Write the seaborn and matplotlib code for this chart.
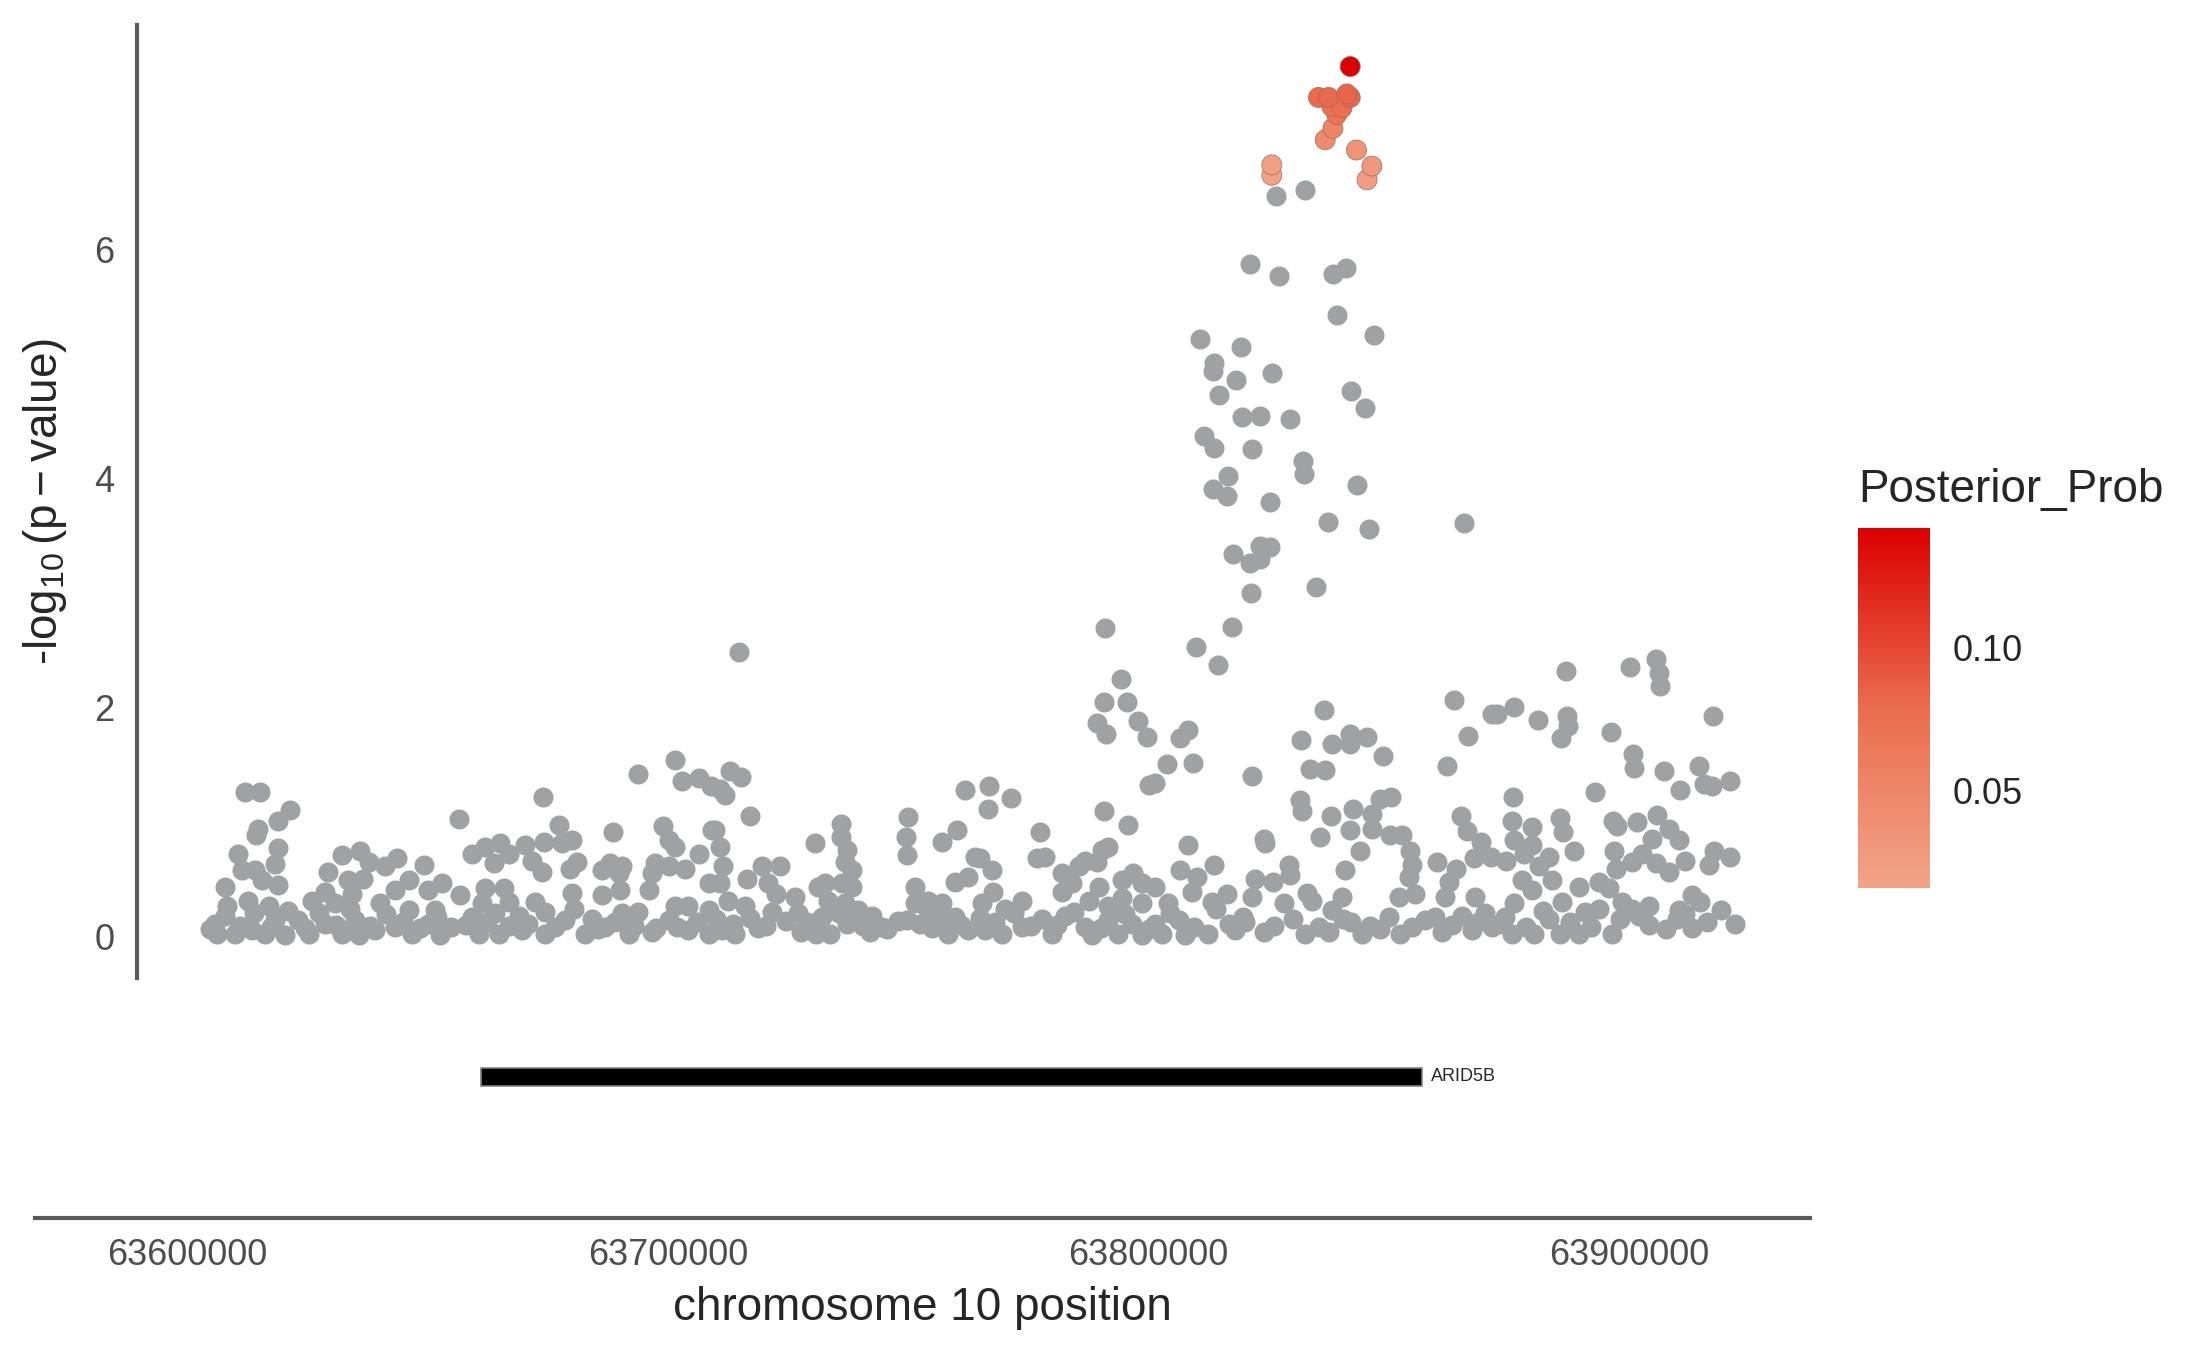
import numpy as np
import pandas as pd
import matplotlib
matplotlib.use("Agg")
import matplotlib.pyplot as plt
import seaborn as sns
from matplotlib.colors import LinearSegmentedColormap, Normalize
from matplotlib.cm import ScalarMappable

# ---- data (positions in kb on chr10, -log10 p) ----
# SNPs without a posterior (grey), split by region
left_pos = [63604.8, 63612.1, 63615.2, 63621.5, 63619.0, 63614.7, 63614.4, 63610.7, 63618.9, 63618.3,
            63614.2, 63611.4, 63607.9, 63619.0, 63615.6, 63608.3, 63612.8, 63617.0, 63605.9, 63606.2,
            63610.0, 63613.5, 63616.3, 63618.3, 63620.4, 63623.2, 63625.3, 63626.0, 63629.4, 63628.7,
            63632.2, 63636.0, 63637.8, 63633.6, 63636.7, 63634.3, 63630.8, 63628.7, 63632.2, 63635.7,
            63635.0, 63639.1, 63640.2, 63641.2, 63643.7, 63643.3, 63646.1, 63649.2, 63646.1, 63643.3,
            63646.8, 63650.2, 63651.6, 63653.0, 63652.7, 63650.2]
left_logp = [0.06, 1.26, 1.26, 1.10, 1.01, 0.94, 0.88, 0.72, 0.77, 0.63,
             0.58, 0.58, 0.43, 0.45, 0.49, 0.26, 0.31, 0.26, 0.11, 0.02,
             0.02, 0.05, 0.02, 0.14, 0.01, 0.14, 0.02, 0.31, 0.56, 0.39,
             0.71, 0.74, 0.65, 0.49, 0.50, 0.37, 0.29, 0.11, 0.02, 0.01,
             0.14, 0.05, 0.29, 0.61, 0.68, 0.40, 0.49, 0.62, 0.23, 0.08,
             0.02, 0.40, 0.23, 0.46, 0.01, 0.11]

midleft_pos = [63656.5, 63674.0, 63677.3, 63693.7, 63701.6, 63703.0, 63706.4, 63708.9, 63688.7, 63699.1,
               63700.2, 63701.6, 63706.4, 63709.2, 63659.3, 63662.0, 63665.2, 63666.9, 63663.8, 63670.4,
               63674.2, 63671.7, 63673.8, 63678.0, 63680.1, 63681.1, 63679.7, 63686.3, 63688.0, 63690.5,
               63689.8, 63697.4, 63696.7, 63700.2, 63703.6, 63708.5, 63680.1, 63686.3, 63690.1, 63696.0,
               63656.8, 63662.0, 63665.9, 63661.3, 63666.9, 63672.4, 63659.3, 63664.1, 63669.0, 63674.5,
               63678.7, 63660.7, 63664.8, 63669.7, 63674.5, 63682.8, 63684.2, 63687.0, 63690.5, 63693.9,
               63691.9, 63696.7, 63700.2, 63701.6, 63704.3, 63704.3, 63708.5, 63708.5]
midleft_logp = [1.02, 1.22, 0.97, 1.42, 1.54, 1.36, 1.38, 1.31, 0.91, 0.96,
                0.84, 0.78, 0.72, 0.93, 0.72, 0.78, 0.81, 0.72, 0.64, 0.80,
                0.82, 0.66, 0.56, 0.81, 0.84, 0.65, 0.59, 0.58, 0.64, 0.61,
                0.55, 0.64, 0.55, 0.61, 0.59, 0.46, 0.38, 0.36, 0.40, 0.40,
                0.36, 0.42, 0.42, 0.29, 0.30, 0.30, 0.17, 0.20, 0.18, 0.21,
                0.14, 0.02, 0.02, 0.05, 0.02, 0.02, 0.15, 0.08, 0.20, 0.21,
                0.02, 0.04, 0.14, 0.26, 0.26, 0.05, 0.23, 0.02]

mid_pos = [63714.8, 63712.9, 63715.3, 63710.8, 63711.9, 63717.0, 63709.8, 63710.8, 63711.5, 63710.8,
           63712.6, 63716.4, 63716.0, 63719.5, 63723.3, 63720.9, 63722.6, 63721.6, 63718.8, 63714.0,
           63711.2, 63726.4, 63727.1, 63727.8, 63730.6, 63731.3, 63732.7, 63730.9, 63733.7, 63733.4,
           63736.0, 63736.0, 63737.2, 63736.8, 63738.2, 63738.2, 63736.2, 63736.8, 63737.2, 63739.6,
           63742.4, 63742.0, 63744.5, 63747.9, 63749.7, 63749.9, 63749.5, 63749.8, 63751.4, 63751.4,
           63754.2, 63754.2, 63757.0, 63754.9, 63758.3, 63759.7, 63757.0, 63760.1, 63761.9, 63759.7,
           63762.5, 63762.5, 63763.9]
mid_logp = [2.48, 1.44, 1.39, 1.29, 1.23, 1.05, 0.93, 0.78, 0.61, 0.46,
            0.31, 0.50, 0.26, 0.61, 0.61, 0.46, 0.37, 0.21, 0.07, 0.02,
            0.05, 0.34, 0.20, 0.04, 0.81, 0.43, 0.46, 0.02, 0.02, 0.31,
            0.98, 0.87, 0.75, 0.65, 0.58, 0.43, 0.46, 0.29, 0.11, 0.23,
            0.18, 0.04, 0.08, 0.13, 0.14, 1.04, 0.87, 0.71, 0.43, 0.29,
            0.31, 0.23, 0.29, 0.07, 0.02, 0.17, 0.82, 0.93, 1.28, 0.47,
            0.52, 0.05, 0.69]

midright_pos = [63790.9, 63809.8, 63814.4, 63817.3, 63794.2, 63790.8, 63795.5, 63789.2, 63791.2, 63797.7,
                63799.6, 63806.5, 63808.1, 63803.9, 63809.2, 63800.0, 63801.3, 63766.8, 63771.4, 63766.5,
                63790.7, 63795.7, 63777.4, 63808.1, 63813.5, 63791.6, 63790.3, 63776.7, 63778.5, 63764.9,
                63767.4, 63786.8, 63789.2, 63781.9, 63785.4, 63784.0, 63781.9, 63789.6, 63794.4, 63796.8,
                63798.6, 63801.3, 63806.5, 63810.0, 63809.0, 63804.1, 63773.6, 63767.7, 63770.1, 63765.3,
                63787.5, 63791.6, 63794.4, 63798.6, 63813.1, 63816.3, 63777.8, 63782.6, 63786.8, 63791.6,
                63796.5, 63801.3, 63806.2, 63773.6, 63769.4, 63766.0, 63779.8, 63788.2, 63793.7, 63798.6,
                63802.7, 63807.6, 63812.4, 63816.6]
midright_logp = [2.69, 2.53, 2.37, 2.70, 2.25, 2.05, 2.05, 1.86, 1.77, 1.88,
                 1.74, 1.73, 1.80, 1.50, 1.51, 1.32, 1.34, 1.31, 1.21, 1.11,
                 1.09, 0.97, 0.91, 0.80, 0.62, 0.78, 0.75, 0.68, 0.69, 0.68,
                 0.58, 0.66, 0.65, 0.55, 0.61, 0.46, 0.39, 0.43, 0.49, 0.55,
                 0.46, 0.43, 0.58, 0.52, 0.39, 0.29, 0.31, 0.39, 0.24, 0.29,
                 0.31, 0.26, 0.33, 0.29, 0.30, 0.37, 0.15, 0.18, 0.08, 0.14,
                 0.11, 0.11, 0.14, 0.08, 0.02, 0.05, 0.02, 0.01, 0.02, 0.01,
                 0.02, 0.01, 0.02, 0.11]

right_pos = [63836.4, 63831.7, 63838.1, 63841.8, 63841.9, 63845.3, 63848.7, 63833.6, 63836.7, 63821.5,
             63863.4, 63866.4, 63871.4, 63862.0, 63831.5, 63831.9, 63838.0, 63842.5, 63848.0, 63850.4,
             63846.4, 63846.4, 63841.9, 63844.0, 63835.7, 63823.9, 63824.2, 63850.2, 63852.7, 63854.4,
             63854.8, 63854.1, 63855.4, 63852.0, 63865.0, 63866.2, 63869.0, 63860.0, 63863.8, 63867.6,
             63871.1, 63862.4, 63861.7, 63867.9, 63829.1, 63829.4, 63822.2, 63825.8, 63840.9, 63832.9,
             63834.0, 63828.2, 63840.2, 63838.1, 63840.5, 63821.5, 63819.7, 63823.9, 63832.6, 63837.4,
             63844.4, 63846.1, 63849.9, 63852.3, 63854.8, 63859.6, 63861.0, 63865.2, 63867.2, 63870.0,
             63871.4, 63818.0]
right_logp = [1.98, 1.71, 1.68, 1.77, 1.68, 1.74, 1.57, 1.46, 1.45, 1.40,
              2.06, 1.75, 1.94, 1.49, 1.19, 1.09, 1.05, 1.11, 1.20, 1.22,
              1.07, 0.94, 0.93, 0.74, 0.87, 0.85, 0.81, 0.88, 0.88, 0.74,
              0.62, 0.52, 0.37, 0.34, 1.05, 0.92, 0.82, 0.65, 0.59, 0.68,
              0.69, 0.47, 0.34, 0.34, 0.62, 0.53, 0.50, 0.47, 0.58, 0.38,
              0.31, 0.29, 0.34, 0.23, 0.15, 0.34, 0.17, 0.04, 0.02, 0.04,
              0.02, 0.09, 0.17, 0.02, 0.08, 0.17, 0.04, 0.18, 0.05, 0.20,
              0.08, 0.05]

far_pos = [63905.4, 63906.1, 63906.3, 63900.0, 63886.7, 63875.9, 63872.4, 63881.0, 63887.0, 63887.2,
           63885.8, 63896.2, 63917.3, 63900.7, 63900.9, 63907.1, 63910.4, 63914.5, 63915.4, 63917.2,
           63920.9, 63875.8, 63892.8, 63875.6, 63879.7, 63885.5, 63886.2, 63896.5, 63897.4, 63901.6,
           63905.7, 63908.2, 63904.7, 63910.2, 63875.9, 63879.7, 63874.2, 63878.0, 63883.2, 63881.1,
           63888.5, 63896.7, 63897.1, 63900.5, 63902.6, 63905.4, 63908.2, 63911.6, 63917.5, 63916.5,
           63920.9, 63877.6, 63883.9, 63879.7, 63889.4, 63893.6, 63895.7, 63875.9, 63886.0, 63898.5,
           63900.5, 63904.0, 63913.0, 63914.7, 63910.2, 63909.9, 63890.8, 63893.6, 63883.2, 63872.8,
           63875.6, 63880.1, 63885.6, 63889.4, 63896.4, 63904.0, 63913.0, 63922.0]
far_logp = [2.42, 2.30, 2.19, 2.35, 2.32, 2.00, 1.94, 1.89, 1.92, 1.84,
            1.73, 1.78, 1.92, 1.59, 1.47, 1.44, 1.28, 1.49, 1.33, 1.31,
            1.36, 1.22, 1.26, 1.01, 0.95, 1.03, 0.91, 1.01, 0.96, 1.00,
            1.06, 0.94, 0.85, 0.84, 0.84, 0.80, 0.66, 0.72, 0.69, 0.61,
            0.74, 0.74, 0.59, 0.65, 0.72, 0.64, 0.56, 0.66, 0.74, 0.62,
            0.69, 0.49, 0.49, 0.40, 0.43, 0.47, 0.42, 0.29, 0.30, 0.30,
            0.24, 0.26, 0.36, 0.30, 0.23, 0.15, 0.21, 0.24, 0.15, 0.11,
            0.02, 0.02, 0.02, 0.02, 0.02, 0.10, 0.07, 0.11]

peak_pos = [63826.5, 63832.5, 63821.1, 63827.0, 63838.4, 63841.1, 63839.1, 63846.9, 63810.7, 63819.2,
            63813.5, 63813.4, 63818.1, 63825.6, 63814.7, 63842.1, 63845.0, 63819.4, 63823.2, 63829.3,
            63811.4, 63813.5, 63821.5, 63832.1, 63832.2, 63843.3, 63816.4, 63813.3, 63816.3, 63825.3,
            63837.3, 63845.9, 63865.5, 63817.5, 63823.2, 63825.3, 63821.1, 63823.2, 63821.2, 63834.7]
peak_logp = [6.47, 6.52, 5.87, 5.77, 5.79, 5.84, 5.43, 5.25, 5.22, 5.15,
             5.01, 4.94, 4.86, 4.92, 4.73, 4.76, 4.62, 4.54, 4.55, 4.52,
             4.37, 4.27, 4.26, 4.15, 4.04, 3.94, 4.02, 3.91, 3.85, 3.79,
             3.62, 3.56, 3.61, 3.34, 3.41, 3.40, 3.26, 3.30, 3.00, 3.05]

# partly hidden SNPs in the dense strip just above zero
floor_pos = [63608.0, 63611.0, 63614.0, 63617.5, 63621.0, 63624.5, 63627.5, 63631.0, 63634.0, 63638.0,
             63641.5, 63645.0, 63648.5, 63652.0, 63655.0, 63658.0, 63662.5, 63667.0, 63671.0, 63676.5,
             63680.5, 63685.5, 63689.0, 63693.0, 63697.5, 63702.0, 63706.0, 63710.0, 63713.5, 63717.0,
             63720.5, 63724.5, 63729.0, 63732.0, 63735.5, 63740.5, 63745.5, 63752.5, 63756.5, 63761.0,
             63765.0, 63768.0, 63772.0, 63775.5, 63781.0, 63784.5, 63790.0, 63795.0, 63800.0, 63804.5,
             63809.5, 63814.0, 63820.0, 63826.0, 63830.0, 63835.5, 63842.0, 63848.0, 63857.5, 63863.0,
             63868.5, 63874.0, 63878.5, 63882.0, 63887.5, 63892.0, 63898.0, 63902.0, 63907.5, 63911.5,
             63916.0, 63919.0]
floor_logp = [0.18, 0.09, 0.20, 0.08, 0.22, 0.07, 0.20, 0.10, 0.24, 0.09,
              0.19, 0.12, 0.07, 0.17, 0.08, 0.10, 0.12, 0.09, 0.11, 0.08,
              0.24, 0.06, 0.12, 0.09, 0.07, 0.08, 0.12, 0.15, 0.11, 0.16,
              0.09, 0.13, 0.12, 0.17, 0.20, 0.09, 0.06, 0.11, 0.15, 0.10,
              0.16, 0.12, 0.20, 0.09, 0.10, 0.21, 0.07, 0.19, 0.06, 0.20,
              0.08, 0.24, 0.12, 0.09, 0.15, 0.08, 0.12, 0.06, 0.14, 0.10,
              0.12, 0.17, 0.08, 0.22, 0.12, 0.08, 0.15, 0.18, 0.06, 0.19,
              0.12, 0.23]

# credible-set SNPs with a posterior probability
cs_pos = [63841.9, 63835.3, 63837.4, 63841.2, 63841.9, 63838.1, 63840.2, 63839.1,
          63838.3, 63836.7, 63843.2, 63846.4, 63845.4, 63825.6, 63825.6]
cs_logp = [7.60, 7.33, 7.33, 7.36, 7.33, 7.25, 7.24, 7.18,
           7.06, 6.96, 6.87, 6.73, 6.61, 6.74, 6.65]
cs_pp = [0.142, 0.080, 0.081, 0.083, 0.082, 0.074, 0.076, 0.070,
         0.052, 0.046, 0.036, 0.030, 0.025, 0.020, 0.017]

# gene track
gene_names = ["ARID5B"]
gene_start = [63661100]
gene_end = [63856900]

x_ticks = [63600000, 63700000, 63800000, 63900000]
y_ticks = [0, 2, 4, 6]

# ---- assemble ----
grey = pd.DataFrame({
    "pos": np.array(left_pos + midleft_pos + mid_pos + midright_pos + right_pos + far_pos
                    + peak_pos + floor_pos) * 1000,
    "logp": left_logp + midleft_logp + mid_logp + midright_logp + right_logp + far_logp
            + peak_logp + floor_logp,
})
cs = pd.DataFrame({"pos": np.array(cs_pos) * 1000, "logp": cs_logp, "pp": cs_pp}).sort_values("pp")

sns.set_theme(style="white")
plt.rcParams["font.family"] = ["Liberation Sans", "DejaVu Sans"]
plt.rcParams["mathtext.fontset"] = "custom"
plt.rcParams["mathtext.rm"] = "Liberation Sans"
plt.rcParams["mathtext.it"] = "Liberation Sans:italic"

cmap = LinearSegmentedColormap.from_list("pp", ["#F2A488", "#EA6C4E", "#DC0000"])
norm = Normalize(vmin=0.016, vmax=0.142)

axis_col = "#5A5A5A"
tick_col = "#4D4D4D"

fig = plt.figure(figsize=(10.935, 6.755), dpi=200)

# top panel: association
ax = fig.add_axes([0.0625, 0.276, 0.7653, 0.7055])
sns.scatterplot(data=grey, x="pos", y="logp", color="#A0A1A3", s=52, linewidth=0, ax=ax)
sns.scatterplot(data=cs, x="pos", y="logp", hue="pp", palette=cmap, hue_norm=norm,
                s=52, edgecolor="#a06a5e", linewidth=0.25, legend=False, ax=ax)
ax.set_xlim(63589560, 63937590)
ax.set_ylim(-0.367, 7.963)
ax.set_xticks([])
ax.set_yticks(y_ticks)
ax.set_yticklabels([str(v) for v in y_ticks])
for side in ["top", "right", "bottom"]:
    ax.spines[side].set_visible(False)
ax.spines["left"].set_color(axis_col)
ax.spines["left"].set_linewidth(1.5)
ax.tick_params(axis="y", length=0, labelsize=13, labelcolor=tick_col, pad=8)
ax.set_xlabel("")
ax.set_ylabel(r"$\text{-}\mathrm{log}_{10}\,(\mathrm{p}-\mathrm{value})$", fontsize=16.5, labelpad=9)

# bottom panel: gene track
ax2 = fig.add_axes([0.016, 0.0984, 0.8117, 0.1614])
gene_y = 0.647
ax2.barh([gene_y] * len(gene_names), np.array(gene_end) - np.array(gene_start), left=gene_start,
         height=0.084, color="black", edgecolor="#808080", linewidth=0.6)
for name, end in zip(gene_names, gene_end):
    ax2.text(end + 1900, gene_y, name, fontsize=6.5, va="center", ha="left")
ax2.set_xlim(63568390, 63937590)
ax2.set_ylim(0, 1)
ax2.set_yticks([])
ax2.set_xticks(x_ticks)
ax2.set_xticklabels([str(v) for v in x_ticks])
for side in ["top", "right", "left"]:
    ax2.spines[side].set_visible(False)
ax2.spines["bottom"].set_color(axis_col)
ax2.spines["bottom"].set_linewidth(1.5)
ax2.tick_params(axis="x", length=0, labelsize=13, labelcolor=tick_col, pad=7)
ax2.set_xlabel("chromosome 10 position", fontsize=16.5, labelpad=5)

# colour bar legend
cax = fig.add_axes([0.8496, 0.3427, 0.0329, 0.2665])
cb = fig.colorbar(ScalarMappable(norm=norm, cmap=cmap), cax=cax)
cb.outline.set_visible(False)
cb.set_ticks([0.05, 0.10])
cb.set_ticklabels(["0.05", "0.10"])
cb.minorticks_off()
cax.tick_params(which="both", left=True, right=True, labelleft=False, labelright=True,
                direction="in", color="white", length=5.5, width=1, labelsize=13, pad=8)
fig.text(0.8496, 0.6284, "Posterior_Prob", fontsize=16.5, va="baseline", ha="left")

fig.savefig("out.png", dpi=200)
